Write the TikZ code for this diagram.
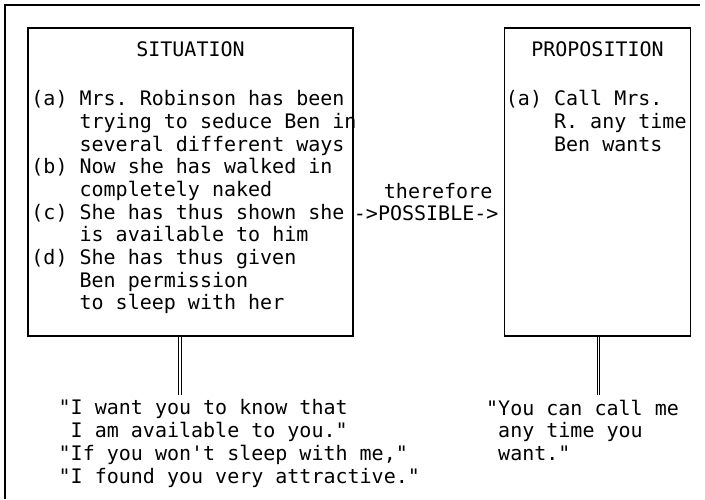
\documentclass[tikz,border=0pt]{standalone}
\usepackage{fontspec}
\setmonofont{DejaVu Sans Mono}
\usetikzlibrary{positioning}
\tikzstyle{pbox} = [rectangle, draw=black, line width=1.5pt, minimum height=308pt, inner sep=0pt]
\tikzstyle{ptext} = [inner sep=0pt, align=left, font=\ttfamily\fontsize{20pt}{22.7pt}\selectfont]
\tikzstyle{pstem} = [draw=black, double, line width=0.7pt, double distance=1.8pt]
\tikzstyle{pframe} = [line width=1.6pt]
\newcommand{\pad}{\phantom{(a)~}}
\newcommand{\qpad}{\phantom{"}}

\begin{document}
\begin{tikzpicture}[x=1pt, y=1pt]
\useasboundingbox (0,0) rectangle (705,-499);
\draw [pframe] (700,-5) -- (5,-5) -- (5,-499);
% the two boxes
\node (sit) [pbox, minimum width=325pt] at (190.5,-182) {};
\node (prop) [pbox, minimum width=186pt, right=150pt of sit] {};
\node (sittitle) [ptext] at ([yshift=-22pt]sit.north) {SITUATION};
\node (proptitle) [ptext] at ([yshift=-22pt]prop.north) {PROPOSITION};
\node (sititems) [ptext, anchor=north west] at ([xshift=4pt, yshift=-63pt]sit.north west)
  {(a) Mrs. Robinson has been\\\pad trying to seduce Ben in\\\pad several different ways\\
   (b) Now she has walked in\\\pad completely naked\\
   (c) She has thus shown she\\\pad is available to him\\
   (d) She has thus given\\\pad Ben permission\\\pad to sleep with her};
\node (propitems) [ptext, anchor=north west] at ([xshift=2pt, yshift=-63pt]prop.north west)
  {(a) Call Mrs.\\\pad R. any time\\\pad Ben wants};
\node (link) [ptext, right=0pt of sit, yshift=-20pt] {\hspace*{30pt}therefore\\->POSSIBLE->};
% what is said
\coordinate (sitfoot) at ([xshift=-10.5pt]sit.south);
\coordinate (propfoot) at ([xshift=1pt]prop.south);
\node (sitsay) [ptext, anchor=north west, outer ysep=5pt] at ([xshift=-121.5pt, yshift=-58pt]sitfoot)
  {"I want you to know that\\\qpad I am available to you."\\"If you won't sleep with me,"\\"I found you very attractive."};
\node (propsay) [ptext, anchor=north west, outer ysep=5pt] at ([xshift=-112.5pt, yshift=-58pt]propfoot)
  {"You can call me\\\qpad any time you\\\qpad want."};
\draw [pstem] (sitfoot) -- (sitfoot |- sitsay.north);
\draw [pstem] (propfoot) -- (propfoot |- propsay.north);
\end{tikzpicture}
\end{document}
